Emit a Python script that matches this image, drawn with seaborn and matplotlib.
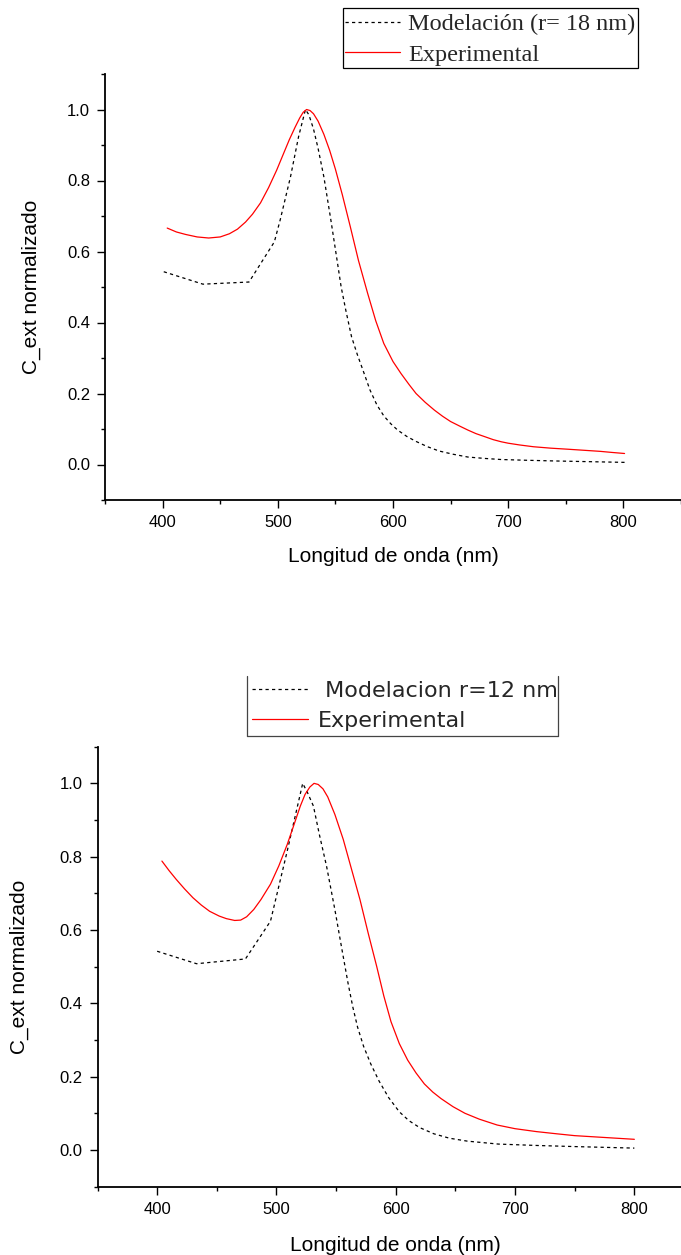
import matplotlib
matplotlib.use("Agg")
import matplotlib.pyplot as plt
import seaborn as sns
from matplotlib.patches import Rectangle
from matplotlib.lines import Line2D
from matplotlib.ticker import MultipleLocator

# ---------------- data ----------------
# Top panel: model r = 18 nm
top_model_x = [401, 435, 475, 497, 502, 511, 518, 524, 527, 531, 535, 540, 546, 551,
               555, 559, 564, 569, 574, 580, 586, 592, 598, 604, 612, 620, 630, 640,
               652, 665, 680, 694, 715, 740, 770, 801]
top_model_y = [0.543, 0.508, 0.514, 0.627, 0.688, 0.81, 0.923, 1.0, 0.985, 0.945, 0.89,
               0.81, 0.69, 0.585, 0.50, 0.435, 0.36, 0.31, 0.265, 0.21, 0.168, 0.137,
               0.115, 0.097, 0.079, 0.065, 0.05, 0.038, 0.029, 0.021, 0.017, 0.014,
               0.012, 0.010, 0.008, 0.006]
# Top panel: experimental
top_exp_x = [404, 412, 420, 430, 440, 450, 458, 465, 472, 478, 485, 492, 499, 505, 510,
             515, 519, 522, 525, 528, 531, 535, 540, 545, 550, 556, 563, 570, 578, 585,
             592, 600, 607, 614, 620, 628, 636, 643, 650, 658, 665, 672, 680, 687, 694,
             700, 710, 722, 737, 752, 766, 780, 790, 801]
top_exp_y = [0.666, 0.655, 0.648, 0.641, 0.638, 0.641, 0.650, 0.663, 0.683, 0.705,
             0.737, 0.78, 0.829, 0.876, 0.915, 0.950, 0.976, 0.992, 1.0, 0.997, 0.988,
             0.967, 0.93, 0.885, 0.832, 0.76, 0.669, 0.575, 0.482, 0.405, 0.341, 0.29,
             0.256, 0.225, 0.200, 0.175, 0.153, 0.136, 0.121, 0.108, 0.097, 0.087,
             0.078, 0.070, 0.064, 0.060, 0.055, 0.050, 0.046, 0.043, 0.040, 0.037,
             0.034, 0.031]

# Bottom panel: model r = 12 nm
bot_model_x = [400, 433, 474, 495, 509, 522, 526, 531, 536, 542, 549, 555, 560, 564,
               568, 573, 579, 586, 594, 603, 611, 620, 632, 645, 660, 686, 720, 752, 800]
bot_model_y = [0.542, 0.508, 0.521, 0.624, 0.815, 1.0, 0.975, 0.938, 0.86, 0.774, 0.655,
               0.545, 0.455, 0.39, 0.335, 0.283, 0.235, 0.188, 0.143, 0.104, 0.08,
               0.061, 0.044, 0.032, 0.024, 0.016, 0.012, 0.009, 0.005]
# Bottom panel: experimental
bot_exp_x = [404, 410, 416, 423, 430, 437, 444, 452, 458, 465, 470, 475, 481, 487, 495,
             502, 509, 515, 520, 524, 528, 531.5, 535, 539, 543, 549, 556, 563, 570,
             577, 584, 590, 596, 603, 610, 617, 624, 631, 638, 648, 658, 670, 685, 700,
             718, 735, 750, 775, 800]
bot_exp_y = [0.788, 0.762, 0.738, 0.712, 0.688, 0.668, 0.651, 0.638, 0.631, 0.626,
             0.627, 0.636, 0.656, 0.683, 0.725, 0.775, 0.833, 0.89, 0.938, 0.97, 0.99,
             1.0, 0.997, 0.985, 0.963, 0.915, 0.847, 0.765, 0.683, 0.59, 0.501, 0.42,
             0.35, 0.29, 0.245, 0.21, 0.18, 0.158, 0.14, 0.118, 0.10, 0.084, 0.068,
             0.058, 0.050, 0.044, 0.039, 0.034, 0.029]

x_major = [400, 500, 600, 700, 800]
y_major = [0.0, 0.2, 0.4, 0.6, 0.8, 1.0]
x_label = "Longitud de onda (nm)"
y_label = "C_ext normalizado"
top_labels = ["Modelación (r= 18 nm)", "Experimental"]
bot_labels = [" Modelacion r=12 nm", "Experimental"]

# ---------------- styling ----------------
sns.set_theme(style="ticks")
plt.rcParams["font.family"] = ["Liberation Sans", "DejaVu Sans"]
plt.rcParams["axes.facecolor"] = "white"
plt.rcParams["figure.facecolor"] = "white"

W, H = 681, 1255
fig = plt.figure(figsize=(W / 100, H / 100), dpi=100)


def fx(px):
    return px / W


def fy(py):
    return 1 - py / H


ax1 = fig.add_axes([fx(105), fy(500), 576 / W, 426 / H])
ax2 = fig.add_axes([fx(97.5), fy(1186.6), 596.5 / W, 439.9 / H])

dash = (0, (2.6, 2.6))

for ax, mx, my, ex, ey, labs in [
    (ax1, top_model_x, top_model_y, top_exp_x, top_exp_y, top_labels),
    (ax2, bot_model_x, bot_model_y, bot_exp_x, bot_exp_y, bot_labels),
]:
    sns.lineplot(x=mx, y=my, ax=ax, color="black", lw=0.9, linestyle=dash,
                 label=labs[0], legend=False, sort=False, estimator=None)
    sns.lineplot(x=ex, y=ey, ax=ax, color="#ff0000", lw=0.9,
                 label=labs[1], legend=False, sort=False, estimator=None)
    ax.set_xlim(350, 850)
    ax.set_ylim(-0.1, 1.1)
    ax.set_xticks(x_major)
    ax.set_yticks(y_major)
    ax.set_yticklabels([f"{v:.1f}" for v in y_major])
    ax.xaxis.set_minor_locator(MultipleLocator(50))
    ax.yaxis.set_minor_locator(MultipleLocator(0.1))
    for s in ["top", "right"]:
        ax.spines[s].set_visible(False)
    for s in ["left", "bottom"]:
        ax.spines[s].set_linewidth(1.3)
        ax.spines[s].set_color("black")
    ax.tick_params(which="major", direction="out", length=5.8, width=1.0,
                   labelsize=12, color="black", labelcolor="black", pad=5)
    ax.tick_params(which="minor", direction="out", length=2.9, width=1.0, color="black")
    ax.set_ylabel(y_label, fontsize=15, color="black")
    if ax is ax1:
        ax.set_xlabel(x_label, fontsize=15, labelpad=12, color="black")
        ax.yaxis.set_label_coords((41 - 105) / 576, 0.5)
    else:
        ax.set_xlabel(x_label, fontsize=15, labelpad=14, color="black")
        ax.yaxis.set_label_coords((29 - 97.5) / 596.5, 0.5)

# ---------------- legends ----------------
h1 = ax1.get_lines()[:2]
leg1 = fig.legend(h1, top_labels, loc="center left",
                  bbox_to_anchor=(fx(345), fy(39.5)), bbox_transform=fig.transFigure,
                  frameon=False, borderpad=0, borderaxespad=0,
                  prop={"family": "Liberation Serif", "size": 17.5},
                  handlelength=2.27, handletextpad=0.33, labelspacing=0.36)
fig.add_artist(Rectangle((fx(343), fy(68)), (638 - 343) / W, (68 - 8) / H,
                         transform=fig.transFigure, fill=False,
                         edgecolor="black", lw=0.9))

h2 = ax2.get_lines()[:2]
leg2 = fig.legend(h2, bot_labels, loc="center left",
                  bbox_to_anchor=(fx(252), fy(706)), bbox_transform=fig.transFigure,
                  frameon=False, borderpad=0, borderaxespad=0,
                  prop={"family": "DejaVu Sans", "size": 16},
                  handlelength=2.5, handletextpad=0.45, labelspacing=0.47)
for (x0, y0, x1, y1) in [(247, 676, 247, 736), (247, 736, 558, 736), (558, 676, 558, 736)]:
    fig.add_artist(Line2D([fx(x0), fx(x1)], [fy(y0), fy(y1)],
                          transform=fig.transFigure, color="#444444", lw=0.9))

fig.savefig("out.png", dpi=100)
